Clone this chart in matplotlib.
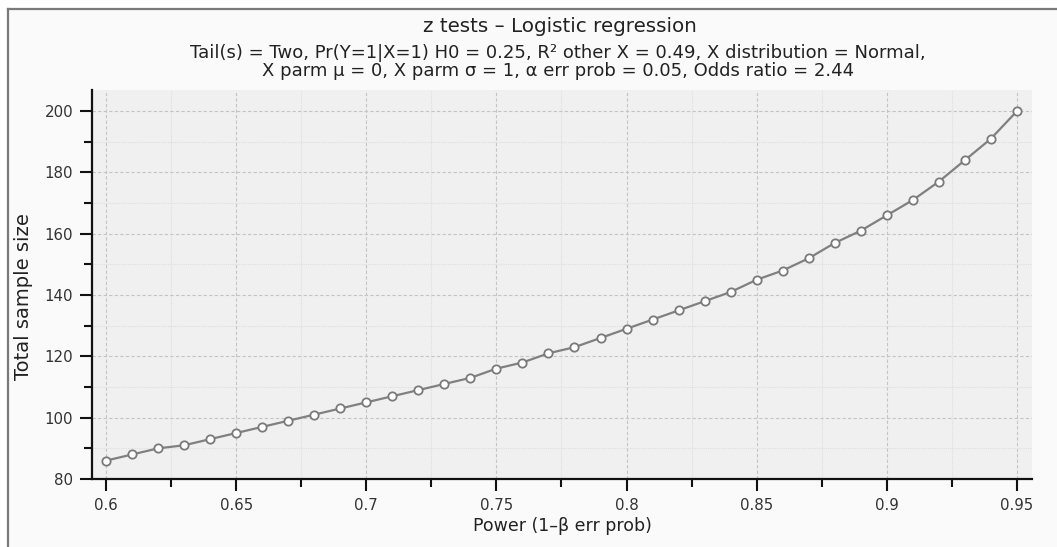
import numpy as np
import matplotlib
matplotlib.use('Agg')
import matplotlib.pyplot as plt
from matplotlib.lines import Line2D
from matplotlib.patches import Rectangle
from matplotlib.ticker import MultipleLocator

# --- dados ---
power = [0.60, 0.61, 0.62, 0.63, 0.64, 0.65, 0.66, 0.67, 0.68, 0.69,
         0.70, 0.71, 0.72, 0.73, 0.74, 0.75, 0.76, 0.77, 0.78, 0.79,
         0.80, 0.81, 0.82, 0.83, 0.84, 0.85, 0.86, 0.87, 0.88, 0.89,
         0.90, 0.91, 0.92, 0.93, 0.94, 0.95]
sample_size = [86, 88, 90, 91, 93, 95, 97, 99, 101, 103,
               105, 107, 109, 111, 113, 116, 118, 121, 123, 126,
               129, 132, 135, 138, 141, 145, 148, 152, 157, 161,
               166, 171, 177, 184, 191, 200]
x_ticks = [0.6, 0.65, 0.7, 0.75, 0.8, 0.85, 0.9, 0.95]
x_tick_labels = ['0.6', '0.65', '0.7', '0.75', '0.8', '0.85', '0.9', '0.95']
y_ticks = [80, 100, 120, 140, 160, 180, 200]

title = 'z tests \u2013 Logistic regression'
subtitle = ('Tail(s) = Two, Pr(Y=1|X=1) H0 = 0.25, R\u00b2 other X = 0.49, X distribution = Normal,\n'
            'X parm \u03bc = 0, X parm \u03c3 = 1, \u03b1 err prob = 0.05, Odds ratio = 2.44')

plt.rcParams['font.family'] = ['DejaVu Sans']

W, H = 1057, 547
fig = plt.figure(figsize=(W / 100, H / 100), dpi=100, facecolor='white')

# moldura do painel
fig.add_artist(Rectangle((8 / W, 0), 1 - 8 / W, 1 - 9 / H, transform=fig.transFigure,
                         facecolor='#fafafa', edgecolor='none', zorder=-10))
fig.add_artist(Line2D([8 / W, 8 / W], [0, 1 - 9 / H], transform=fig.transFigure,
                      color='#7a7a7a', lw=1.6))
fig.add_artist(Line2D([8 / W, 1], [1 - 9 / H, 1 - 9 / H], transform=fig.transFigure,
                      color='#7a7a7a', lw=1.6))

ax = fig.add_axes([92 / W, 1 - 479 / H, (1032 - 92) / W, (479 - 90) / H])
ax.set_facecolor('#f0f0f0')

ax.plot(power, sample_size, color='#808080', lw=1.6, marker='o', markersize=6,
        markerfacecolor='white', markeredgecolor='#7a7a7a', markeredgewidth=1.3, zorder=3)

ax.set_xlim(0.5946, 0.9558)
ax.set_ylim(80, 206.9)
ax.set_xticks(x_ticks)
ax.set_xticklabels(x_tick_labels)
ax.set_yticks(y_ticks)
ax.xaxis.set_minor_locator(MultipleLocator(0.025))
ax.yaxis.set_minor_locator(MultipleLocator(10))

ax.grid(which='major', color='#c4c4c4', linestyle=(0, (3, 2)), lw=0.8)
ax.grid(which='minor', color='#dedede', linestyle=(0, (1, 1)), lw=0.8)
ax.set_axisbelow(True)

for lado in ['top', 'right']:
    ax.spines[lado].set_visible(False)
for lado in ['left', 'bottom']:
    ax.spines[lado].set_linewidth(1.6)
    ax.spines[lado].set_color('#111111')

ax.tick_params(which='major', length=8.5, width=1.5, color='#111111',
               labelsize=10.8, labelcolor='#333333', pad=5)
ax.tick_params(which='minor', length=5.5, width=1.5, color='#111111')

ax.set_xlabel('Power (1\u2013\u03b2 err prob)', fontsize=12.5, color='#222222')
ax.set_ylabel('Total sample size', fontsize=14, color='#222222')
ax.xaxis.set_label_coords(0.5, -0.098)
ax.yaxis.set_label_coords(-0.063, 0.47)

fig.text(560 / W, 1 - 27 / H, title, ha='center', va='center', fontsize=14.3, color='#222222')
fig.text(558 / W, 1 - 62 / H, subtitle, ha='center', va='center', fontsize=13,
         color='#222222', linespacing=1.0)

fig.savefig('out.png', dpi=100, facecolor=fig.get_facecolor())
